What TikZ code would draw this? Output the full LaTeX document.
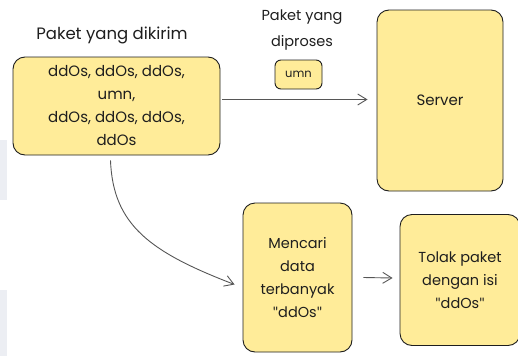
\documentclass[tikz,border=0pt]{standalone}
\usepackage{fontspec}
\setmainfont{Poppins}
\newfontfamily\qfont{Lato}
\usetikzlibrary{arrows.meta,calc}
\definecolor{boxfill}{HTML}{FFEC99}
\definecolor{ink}{HTML}{1E1E1E}
\definecolor{patch}{HTML}{ECEEF3}
\newcommand{\sq}{{\qfont\char34}}
\tikzset{
  card/.style={draw=ink, fill=boxfill, line width=0.9pt, rounded corners=12pt, align=center, inner sep=2pt, text=ink},
  plain/.style={align=center, text=ink, inner sep=0pt},
  arr/.style={draw=ink!75, line width=0.9pt, -{Straight Barb[length=9pt,width=11pt]}},
}
\begin{document}
\begin{tikzpicture}[x=1pt,y=-1pt]
\useasboundingbox (0,0) rectangle (518,356);
\fill[patch] (0,140) rectangle (7,200);
\fill[patch] (0,290) rectangle (7,356);

\node[plain, font=\fontsize{16.5}{18}\selectfont] (lbl1) at (112,35) {Paket yang dikirim};
\node[card, minimum width=207pt, minimum height=98pt, font=\fontsize{15}{23}\selectfont] (box1) at (116.5,106)
  {ddOs, ddOs, ddOs,\\umn,\\ddOs, ddOs, ddOs,\\ddOs};

\node[plain, font=\fontsize{14.5}{26}\selectfont] (lbl2) at (302,30) {Paket yang\\diproses};
\node[card, rounded corners=6pt, minimum width=47pt, minimum height=29pt, font=\fontsize{11.5}{14}\selectfont] (umn) at (298.5,74.5) {umn};

\node[card, minimum width=126pt, minimum height=181pt, font=\fontsize{15}{18}\selectfont] (server) at (440,100.5) {Server};

\node[card, minimum width=109pt, minimum height=149pt, font=\fontsize{14.5}{23}\selectfont] (mencari) at (297.5,277.5)
  {Mencari\\data\\terbanyak\\\sq ddOs\sq};

\node[card, minimum width=120pt, minimum height=131pt, font=\fontsize{14.5}{23}\selectfont] (tolak) at (460,280)
  {Tolak paket\\dengan isi\\\sq ddOs\sq};

\draw[arr] ($(box1.east |- server.west)+(2,-1)$) -- ($(server.west)+(-9,-1)$);
\draw[arr] ($(box1.south)+(-6,5)$) .. controls (113,225) and (150,252) .. ($(mencari.west)+(-8,7)$);
\draw[arr] ($(mencari.east)+(11,0)$) -- ($(tolak.west)+(-7,-2)$);
\end{tikzpicture}
\end{document}
